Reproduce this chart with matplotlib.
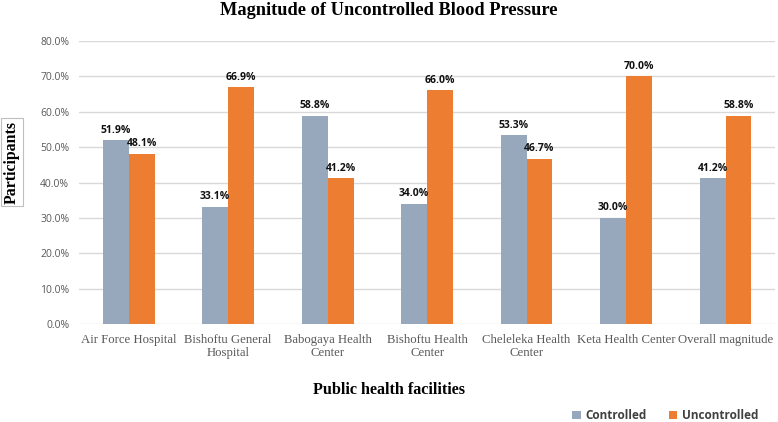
import matplotlib
matplotlib.use('Agg')
import matplotlib.pyplot as plt
import numpy as np

facilities = ['Air Force Hospital', 'Bishoftu General\nHospital', 'Babogaya Health\nCenter',
              'Bishoftu Health\nCenter', 'Cheleleka Health\nCenter', 'Keta Health Center',
              'Overall magnitude']
controlled = [51.9, 33.1, 58.8, 34.0, 53.3, 30.0, 41.2]
uncontrolled = [48.1, 66.9, 41.2, 66.0, 46.7, 70.0, 58.8]
yticks = np.arange(0, 81, 10)

c_ctrl = '#97a8bd'
c_unc = '#ed7d31'

fig = plt.figure(figsize=(7.78, 4.22), dpi=100)
ax = fig.add_axes([0.1015, 0.232, 0.895, 0.671])

x = np.arange(len(facilities))
w = 0.26
b1 = ax.bar(x - w / 2, controlled, w, color=c_ctrl, label='Controlled', zorder=3)
b2 = ax.bar(x + w / 2, uncontrolled, w, color=c_unc, label='Uncontrolled', zorder=3)

for bars, vals in ((b1, controlled), (b2, uncontrolled)):
    for r, v in zip(bars, vals):
        ax.text(r.get_x() + r.get_width() / 2, v + 1.3, '%.1f%%' % v, ha='center', va='bottom',
                fontsize=7.5, fontweight='bold', family='Open Sans', color='#111111')

ax.set_xlim(-0.5, len(facilities) - 0.5)
ax.set_ylim(0, 80)
ax.set_yticks(yticks)
ax.set_yticklabels(['%.1f%%' % t for t in yticks], family='Open Sans', fontsize=7.5, color='#595959')
ax.set_xticks(x)
ax.set_xticklabels(facilities, family='Liberation Serif', fontsize=9.2, color='#595959',
                   linespacing=1.15)
ax.tick_params(length=0, pad=7)
ax.tick_params(axis='y', pad=7)
ax.grid(axis='y', color='#d9d9d9', linewidth=1, zorder=0)
for s in ax.spines.values():
    s.set_visible(False)

fig.text(0.5, 0.975, 'Magnitude of Uncontrolled Blood Pressure', ha='center', va='center',
         family='Liberation Serif', fontweight='bold', fontsize=13.2)
fig.text(0.5, 0.076, 'Public health facilities', ha='center', va='center',
         family='Liberation Serif', fontweight='bold', fontsize=11.6)
fig.text(0.0155, 0.616, 'Participants', rotation=90, ha='center', va='center',
         family='Liberation Serif', fontweight='bold', fontsize=11.4,
         bbox=dict(facecolor='white', edgecolor='#bfbfbf', linewidth=0.8, pad=2))

leg = fig.legend(loc='lower right', bbox_to_anchor=(0.981, -0.012), ncol=2, frameon=False,
                 prop={'family': 'Open Sans', 'weight': 'bold', 'size': 8.5},
                 handlelength=0.7, handleheight=0.7, columnspacing=1.9, handletextpad=0.4,
                 borderaxespad=0)
for t in leg.get_texts():
    t.set_color('#404040')

fig.savefig('out.png', dpi=100)
plt.close()
